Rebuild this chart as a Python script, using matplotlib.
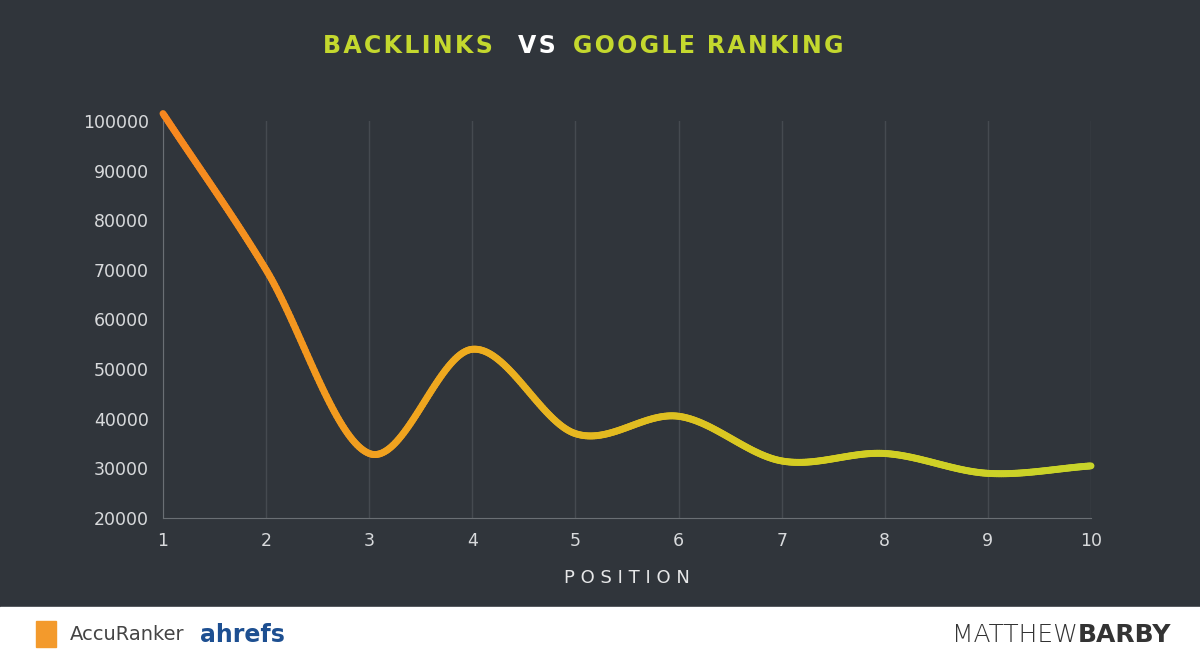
import numpy as np
import matplotlib
matplotlib.use("Agg")
import matplotlib.pyplot as plt
from matplotlib.collections import LineCollection
from matplotlib.colors import LinearSegmentedColormap
from matplotlib.patches import Rectangle

positions = [1, 2, 3, 4, 5, 6, 7, 8, 9, 10]
backlinks = [101500, 70000, 33000, 54000, 37000, 40500, 31500, 33000, 29000, 30500]
yticks = [20000, 30000, 40000, 50000, 60000, 70000, 80000, 90000, 100000]

bg = '#30353b'

def catmull(x, y, n=60):
    x = np.array(x, float); y = np.array(y, float)
    px = np.concatenate([[2*x[0]-x[1]], x, [2*x[-1]-x[-2]]])
    py = np.concatenate([[2*y[0]-y[1]], y, [2*y[-1]-y[-2]]])
    xs, ys = [], []
    for i in range(1, len(px)-2):
        t = np.linspace(0, 1, n, endpoint=False)
        for p, out in ((px, xs), (py, ys)):
            p0, p1, p2, p3 = p[i-1], p[i], p[i+1], p[i+2]
            out.extend(0.5*((2*p1) + (-p0+p2)*t + (2*p0-5*p1+4*p2-p3)*t**2 + (-p0+3*p1-3*p2+p3)*t**3))
    xs.append(x[-1]); ys.append(y[-1])
    return np.array(xs), np.array(ys)

def spaced(s):
    return '\u200a'.join(s)

fig = plt.figure(figsize=(12, 6.67), dpi=100)
fig.patch.set_facecolor(bg)
ax = fig.add_axes([163/1200, 1-518/667, (1091-163)/1200, (518-121)/667])
ax.set_facecolor(bg)
ax.set_xlim(1, 10)
ax.set_ylim(20000, 100000)

sx, sy = catmull(positions, backlinks)
pts = np.array([sx, sy]).T.reshape(-1, 1, 2)
segs = np.concatenate([pts[:-1], pts[1:]], axis=1)
cmap = LinearSegmentedColormap.from_list('g', ['#f7871f', '#eeac1f', '#d6cc22', '#c8d42a'])
lc = LineCollection(segs, cmap=cmap, linewidth=5, capstyle='round', joinstyle='round', clip_on=False)
lc.set_array((sx[:-1] - 1) / 9)
ax.add_collection(lc)

ax.set_xticks(positions)
ax.set_yticks(yticks)
ax.grid(axis='x', color='#454a50', linewidth=1)
ax.tick_params(colors='#d8dadc', labelsize=12.5, length=0, pad=10)
for s in ['top', 'right']:
    ax.spines[s].set_visible(False)
for s in ['left', 'bottom']:
    ax.spines[s].set_color('#6a6f74')
ax.set_xlabel(' '.join('POSITION'), color='#e6e7e8', fontsize=13, labelpad=14)

# title
ty = 1-46/667
fig.text(323/1200, ty, spaced('BACKLINKS'), color='#c4d82e', fontsize=17, fontweight='bold', ha='left', va='center')
fig.text(518/1200, ty, spaced('VS'), color='#ffffff', fontsize=17, fontweight='bold', ha='left', va='center')
fig.text(573/1200, ty, spaced('GOOGLE') + '\u2002' + spaced('RANKING'), color='#c4d82e', fontsize=17, fontweight='bold', ha='left', va='center')

# footer
fig.patches.append(Rectangle((0, 0), 1, 60/667, transform=fig.transFigure, color='white', zorder=0))
fig.patches.append(Rectangle((36/1200, 1-647/667), 20/1200, 26/667, transform=fig.transFigure, color='#f39a2c', zorder=1))
fig.text(70/1200, 1-635/667, 'AccuRanker', color='#444', fontsize=14, va='center')
fig.text(200/1200, 1-635/667, 'ahrefs', color='#1d4f91', fontsize=17, fontweight='bold', va='center')
fig.text(1078/1200, 1-635/667, 'MATTHEW', color='#333', fontsize=18, ha='right', va='center', fontweight='light')
fig.text(1078/1200, 1-635/667, 'BARBY', color='#333', fontsize=18, ha='left', va='center', fontweight='bold')

fig.savefig('out.png', dpi=100, facecolor=bg)
